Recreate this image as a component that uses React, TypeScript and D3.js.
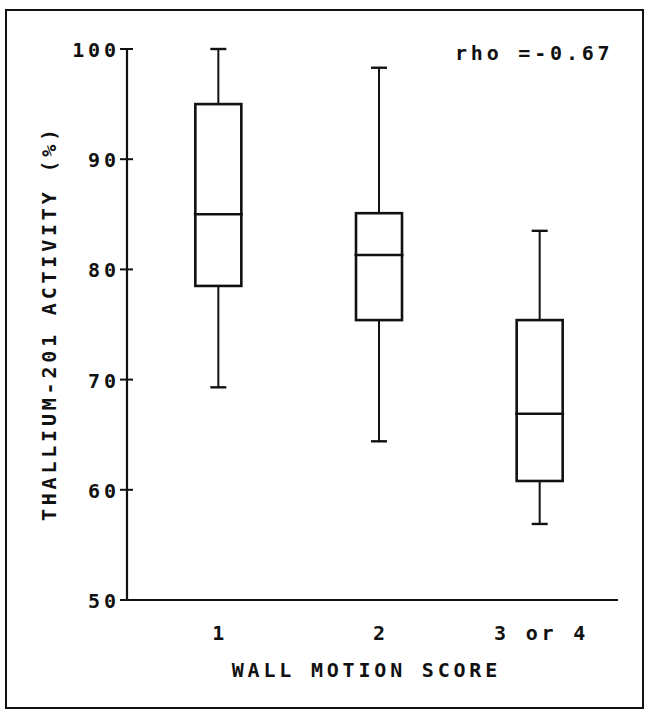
import React from "react";
import * as d3 from "d3";

// Wall motion score groups and their thallium-201 activity distributions (%)
const categories = ["1", "2", "3 or 4"];
const whiskerLow = [69.3, 64.4, 56.9];
const quartile1 = [78.5, 75.4, 60.8];
const medians = [85.0, 81.3, 66.9];
const quartile3 = [95.0, 85.1, 75.4];
const whiskerHigh = [100.0, 98.3, 83.5];
const yTicks = [50, 60, 70, 80, 90, 100];

const W = 645;
const H = 711;
const FONT = "'DejaVu Sans Mono', monospace";
const LS = 3.8; // letter spacing of the plotter-style lettering

export default function App() {
  const y = d3.scaleLinear().domain([50, 100]).range([600, 49]);
  const x = d3.scaleBand<string>().domain(categories).range([138, 620]);
  const axisX = 127;
  const axisEnd = 618;
  const boxW = 46;
  const capW = 16;

  const boxes = categories.map((c, i) => ({
    cat: c,
    cx: (x(c) as number) + x.bandwidth() / 2,
    lo: whiskerLow[i],
    q1: quartile1[i],
    med: medians[i],
    q3: quartile3[i],
    hi: whiskerHigh[i],
  }));

  const textStyle: React.CSSProperties = {
    fontFamily: FONT,
    fontWeight: "bold",
    fontSize: 20,
    letterSpacing: LS,
  };

  return (
    <svg
      width={W}
      height={H}
      style={{ position: "absolute", left: 0, top: 0, background: "#fff" }}
    >
      <rect x={0} y={0} width={W} height={H} fill="#fff" />
      {/* outer frame */}
      <rect
        x={6}
        y={10}
        width={637}
        height={698}
        fill="none"
        stroke="#111"
        strokeWidth={2}
      />

      {/* axes */}
      <line x1={axisX} x2={axisX} y1={y(100)} y2={y(50)} stroke="#111" strokeWidth={2.2} />
      <line x1={axisX} x2={axisEnd} y1={y(50)} y2={y(50)} stroke="#111" strokeWidth={2.2} />

      {/* y ticks and labels */}
      {yTicks.map((t) => (
        <g key={t}>
          <line
            x1={120}
            x2={t === 50 ? axisX : 133}
            y1={y(t)}
            y2={y(t)}
            stroke="#111"
            strokeWidth={2}
          />
          <text
            x={116 + LS}
            y={y(t) + 8}
            textAnchor="end"
            style={textStyle}
            fill="#111"
          >
            {t}
          </text>
        </g>
      ))}

      {/* box plots */}
      {boxes.map((b) => (
        <g key={b.cat} stroke="#111" fill="none">
          <line x1={b.cx} x2={b.cx} y1={y(b.hi)} y2={y(b.q3)} strokeWidth={2} />
          <line x1={b.cx} x2={b.cx} y1={y(b.q1)} y2={y(b.lo)} strokeWidth={2} />
          <line
            x1={b.cx - capW / 2}
            x2={b.cx + capW / 2}
            y1={y(b.hi)}
            y2={y(b.hi)}
            strokeWidth={2.4}
          />
          <line
            x1={b.cx - capW / 2}
            x2={b.cx + capW / 2}
            y1={y(b.lo)}
            y2={y(b.lo)}
            strokeWidth={2.4}
          />
          <rect
            x={b.cx - boxW / 2}
            y={y(b.q3)}
            width={boxW}
            height={y(b.q1) - y(b.q3)}
            strokeWidth={2.6}
          />
          <line
            x1={b.cx - boxW / 2 - 1.5}
            x2={b.cx + boxW / 2 + 1.5}
            y1={y(b.med)}
            y2={y(b.med)}
            strokeWidth={2.4}
          />
        </g>
      ))}

      {/* category labels */}
      {boxes.map((b) => (
        <text
          key={b.cat}
          x={b.cx + LS / 2}
          y={640}
          textAnchor="middle"
          style={textStyle}
          fill="#111"
        >
          {b.cat}
        </text>
      ))}

      {/* axis titles */}
      <text
        x={(232 + 497) / 2 + LS / 2}
        y={677}
        textAnchor="middle"
        style={textStyle}
        fill="#111"
      >
        WALL MOTION SCORE
      </text>
      <text
        transform={`translate(56, ${325 - LS / 2}) rotate(-90)`}
        textAnchor="middle"
        style={textStyle}
        fill="#111"
      >
        THALLIUM-201 ACTIVITY (%)
      </text>

      {/* correlation annotation */}
      <text x={455} y={60} style={textStyle} fill="#111">
        rho =-0.67
      </text>
    </svg>
  );
}
